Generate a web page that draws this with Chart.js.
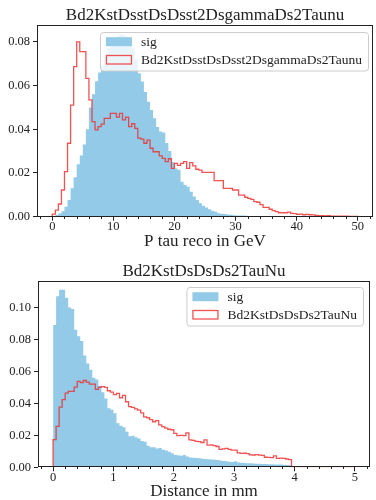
<!DOCTYPE html>
<html><head><meta charset="utf-8">
<script src="https://cdn.jsdelivr.net/npm/chart.js@4.4.1/dist/chart.umd.min.js"></script>
<style>
html,body{margin:0;padding:0;background:#fff;}
#wrap{position:relative;width:376px;height:500px;overflow:hidden;}
.box{position:absolute;left:0;width:376px;height:250px;}
</style></head><body>
<div id="wrap">
<div class="box" style="top:0"><canvas id="c1" width="376" height="250"></canvas></div>
<div class="box" style="top:250px"><canvas id="c2" width="376" height="250"></canvas></div>
</div>
<script>
// ---------- DATA : top panel (P tau reco) ----------
const pTitle = 'Bd2KstDsstDsDsst2DsgammaDs2Taunu';
const pXLabel = 'P tau reco in GeV';
const pSigLabel = 'sig';
const pBkgLabel = 'Bd2KstDsstDsDsst2DsgammaDs2Taunu';
const pRange = [0, 50];            // histogram range, 100 bins
const pSig = [
 0,0.0003,0.0008,0.0015,0.0025,0.0046,0.0076,0.013,0.018,0.024,
 0.028,0.033,0.040,0.050,0.056,0.062,0.066,0.069,0.073,0.077,
 0.079,0.081,0.0825,0.0835,0.083,0.082,0.080,0.077,0.072,0.0656,
 0.0618,0.057,0.0526,0.0488,0.045,0.041,0.039,0.0385,0.0337,0.030,
 0.025,0.022,0.0215,0.016,0.0145,0.0137,0.0114,0.0092,0.0076,0.0061,
 0.005,0.0042,0.0034,0.0027,0.0023,0.0016,0.0013,0.0012,0.001,0.0009,
 0.0007,0.0006,0.0005,0.0005,0.0004,0.0003,0.0003,0.0002,0.0002,0.0002,
 0.0001,0.0001,0.0001,0,0,0,0,0,0,0,
 0,0,0,0,0,0,0,0,0,0,
 0,0,0,0,0,0,0,0,0,0];
const pBkg = [
 0.0002,0.0012,0.003,0.0058,0.0122,0.0206,0.0336,0.051,0.0686,0.080,
 0.0755,0.0755,0.0633,0.0534,0.0435,0.0397,0.0412,0.0423,0.045,0.045,
 0.0473,0.0473,0.0455,0.0473,0.0443,0.0455,0.0412,0.0425,0.0404,0.0359,
 0.0355,0.0336,0.035,0.0313,0.0297,0.0297,0.0278,0.0267,0.0252,0.0265,
 0.0221,0.0244,0.0235,0.0244,0.0252,0.0221,0.0247,0.0232,0.0217,0.0213,
 0.0203,0.0203,0.0203,0.0203,0.0165,0.0165,0.0165,0.013,0.013,0.013,
 0.0122,0.0122,0.0099,0.0099,0.0089,0.0084,0.0079,0.0069,0.0066,0.0055,
 0.0043,0.0043,0.0034,0.0028,0.0023,0.0018,0.0018,0.0018,0.0021,0.0015,
 0.0014,0.0011,0.0012,0.0009,0.0011,0.0009,0.0008,0.0006,0.0005,0.0005,
 0.0004,0.0005,0.0003,0.0003,0.0002,0.0003,0.0002,0.0002,0.0001,0.0001];
const pXTicks = [0,10,20,30,40,50];
const pXTickLabels = ['0','10','20','30','40','50'];
const pYTicks = [0,0.02,0.04,0.06,0.08];
const pYTickLabels = ['0.00','0.02','0.04','0.06','0.08'];

// ---------- DATA : bottom panel (Distance) ----------
const dTitle = 'Bd2KstDsDsDs2TauNu';
const dXLabel = 'Distance in mm';
const dSigLabel = 'sig';
const dBkgLabel = 'Bd2KstDsDsDs2TauNu';
const dRange = [0, 5];             // histogram range, 100 bins
const dSig = [
 0.033,0.089,0.107,0.111,0.111,0.106,0.100,0.099,0.086,0.082,
 0.079,0.070,0.065,0.061,0.056,0.055,0.051,0.047,0.043,0.037,
 0.036,0.0338,0.0275,0.026,0.025,0.0223,0.0195,0.0198,0.0188,0.018,
 0.0165,0.016,0.0135,0.0125,0.0125,0.0118,0.012,0.011,0.0105,0.0098,
 0.0088,0.0077,0.0075,0.0072,0.0077,0.0068,0.0062,0.006,0.0058,0.0056,
 0.0054,0.0052,0.005,0.0049,0.0047,0.0046,0.0043,0.004,0.0038,0.0035,
 0.0033,0.0038,0.003,0.0028,0.0027,0.0026,0.0025,0.0024,0.0022,0.0022,
 0.002,0.002,0.0019,0.0019,0.0018,0.0018,0.0017,0.0016,0.0015,0.0015,
 0,0,0,0,0,0,0,0,0,0,
 0,0,0,0,0,0,0,0,0,0];
const dBkg = [
 0.0048,0.0173,0.0256,0.0377,0.0423,0.0464,0.0475,0.0475,0.0502,0.0537,
 0.053,0.0543,0.0533,0.052,0.052,0.0487,0.050,0.0505,0.050,0.0479,
 0.047,0.0455,0.0462,0.0435,0.045,0.041,0.038,0.0375,0.0365,0.0358,
 0.034,0.0316,0.031,0.0298,0.0285,0.0292,0.0265,0.0255,0.0245,0.0238,
 0.0235,0.0212,0.0198,0.020,0.0198,0.0215,0.0171,0.0168,0.0162,0.016,
 0.0155,0.0172,0.0139,0.014,0.0135,0.013,0.0112,0.0115,0.0118,0.0112,
 0.0108,0.0108,0.009,0.0087,0.0088,0.0086,0.0078,0.0077,0.0079,0.0076,
 0.0074,0.0063,0.0062,0.0061,0.0071,0.0056,0.0057,0.0056,0.0052,0.0048,
 0.0003,0.0003,0.0003,0.0003,0.0003,0.0003,0.0003,0.0003,0.0003,0.0003,
 0.0003,0.0003,0.0003,0.0003,0.0003,0.0003,0.0003,0.0003,0.0003,0.0003];
const dXTicks = [0,1,2,3,4,5];
const dXTickLabels = ['0','1','2','3','4','5'];
const dYTicks = [0,0.02,0.04,0.06,0.08,0.10];
const dYTickLabels = ['0.00','0.02','0.04','0.06','0.08','0.10'];

// ---------- STYLE ----------
const FONT = '"Liberation Serif", "DejaVu Serif", serif';
const BLUE = 'rgb(146,202,232)';
const RED = 'rgba(238,45,45,0.82)';
const INK = '#222';

const titlePlugin = {
  id: 'ptitle',
  afterDraw(chart, args, o) {
    const {ctx, chartArea: a} = chart;
    ctx.save();
    ctx.font = `${o.size}px ${FONT}`;
    ctx.fillStyle = INK;
    ctx.textAlign = 'center';
    ctx.textBaseline = 'alphabetic';
    ctx.fillText(o.text, (a.left + a.right) / 2, o.y);
    ctx.restore();
  }
};

const framePlugin = {
  id: 'frame',
  afterDatasetsDraw(chart) {
    const {ctx, chartArea: a} = chart;
    ctx.save();
    ctx.strokeStyle = INK;
    ctx.lineWidth = 1;
    const l = Math.round(a.left) + 0.5, r = Math.round(a.right) - 0.5;
    const t = Math.round(a.top) + 0.5, b = Math.round(a.bottom) - 0.5;
    ctx.strokeRect(l, t, r - l, b - t);
    ctx.restore();
  }
};

const minorPlugin = {
  id: 'minor',
  afterDatasetsDraw(chart, args, o) {
    const {ctx, chartArea: a} = chart;
    const s = chart.scales.x;
    ctx.save();
    ctx.strokeStyle = INK;
    ctx.lineWidth = 1;
    ctx.beginPath();
    const y0 = Math.round(a.bottom);
    for (let k = Math.ceil(s.min / o.step - 1e-9); k * o.step <= s.max + 1e-9; k++) {
      const v = k * o.step;
      if (o.majors.some(m => Math.abs(m - v) < 1e-9)) continue;
      const px = Math.round(s.getPixelForValue(v)) + 0.5;
      ctx.moveTo(px, y0);
      ctx.lineTo(px, y0 + o.len);
    }
    ctx.stroke();
    ctx.restore();
  }
};

const legendPlugin = {
  id: 'hlegend',
  afterDatasetsDraw(chart, args, o) {
    const {ctx, chartArea: a} = chart;
    const ds = chart.data.datasets;
    const items = [ds[1], ds[0]]; // sig first, then background
    ctx.save();
    ctx.font = `${o.size}px ${FONT}`;
    const tw = Math.max(...items.map(d => ctx.measureText(d.label).width));
    const w = 41 + tw + 6, h = o.h;
    const right = a.right - o.dx, top = a.top + o.dy, left = right - w;
    ctx.beginPath();
    ctx.roundRect(left + 0.5, top + 0.5, w, h, 3);
    ctx.fillStyle = 'rgba(255,255,255,0.8)';
    ctx.fill();
    ctx.strokeStyle = '#cccccc';
    ctx.lineWidth = 1;
    ctx.stroke();
    items.forEach((d, i) => {
      const cy = top + o.rows[i];
      if (i === 0) {
        ctx.fillStyle = d.backgroundColor;
        ctx.fillRect(left + 6, cy - 4.5, 26, 9);
      } else {
        ctx.strokeStyle = d.borderColor;
        ctx.lineWidth = 1.3;
        ctx.strokeRect(left + 6.5, cy - 4, 25, 8.5);
      }
      ctx.fillStyle = INK;
      ctx.textAlign = 'left';
      ctx.textBaseline = 'middle';
      ctx.fillText(d.label, left + 41, cy + 0.5);
    });
    ctx.restore();
  }
};

function makeHist(id, cfg) {
  const n = cfg.sig.length;
  const w = (cfg.range[1] - cfg.range[0]) / n;
  const edge = i => cfg.range[0] + i * w;
  const sigPts = cfg.sig.map((v, i) => ({x: edge(i), y: v}));
  sigPts.push({x: edge(n), y: cfg.sig[n - 1]});
  sigPts.push({x: edge(n), y: 0});
  const bkgPts = [{x: edge(0), y: 0}].concat(cfg.bkg.map((v, i) => ({x: edge(i), y: v})));
  bkgPts.push({x: edge(n), y: cfg.bkg[n - 1]});
  bkgPts.push({x: edge(n), y: 0});
  const ymax = Math.max(...cfg.sig, ...cfg.bkg) * 1.05;
  const xm = (cfg.range[1] - cfg.range[0]) * 0.05;

  return new Chart(document.getElementById(id), {
    type: 'line',
    data: {datasets: [
      {label: cfg.bkgLabel, data: bkgPts, stepped: 'after', borderColor: RED,
       borderWidth: 1.3, pointRadius: 0, fill: false, order: 0},
      {label: cfg.sigLabel, data: sigPts, stepped: 'after', borderColor: 'rgba(0,0,0,0)',
       borderWidth: 0, backgroundColor: BLUE, fill: 'origin', pointRadius: 0, order: 1}
    ]},
    options: {
      responsive: false, animation: false, events: [],
      layout: {padding: {top: cfg.L.top, left: 0, right: cfg.L.right, bottom: 0}},
      plugins: {
        legend: {display: false}, title: {display: false}, tooltip: {enabled: false},
        ptitle: {text: cfg.title, y: cfg.L.titleY, size: 17},
        minor: {step: cfg.minorStep, majors: cfg.xTicks, len: 2},
        hlegend: {size: 13.5, dx: cfg.L.legDx, dy: cfg.L.legDy, h: 38.5, rows: [9.7, 27.5]}
      },
      scales: {
        x: {
          type: 'linear', min: cfg.range[0] - xm, max: cfg.range[1] + xm,
          afterBuildTicks: s => { s.ticks = cfg.xTicks.map(v => ({value: v})); },
          afterFit: s => { s.height = cfg.L.xAxisH; },
          ticks: {color: INK, padding: 0, maxRotation: 0, autoSkip: false,
                  font: {family: FONT, size: 12.5, lineHeight: 1},
                  callback: (v, i) => cfg.xTickLabels[i]},
          grid: {drawOnChartArea: false, drawTicks: true, tickLength: 4, color: INK, lineWidth: 1},
          border: {display: false},
          title: {display: true, text: cfg.xLabel, color: INK, padding: 0,
                  font: {family: FONT, size: 17, lineHeight: 1}}
        },
        y: {
          min: 0, max: ymax,
          afterBuildTicks: s => { s.ticks = cfg.yTicks.map(v => ({value: v})); },
          afterFit: s => { s.width = cfg.L.yAxisW; },
          ticks: {color: INK, padding: 3, autoSkip: false,
                  font: {family: FONT, size: 12.5, lineHeight: 1},
                  callback: (v, i) => cfg.yTickLabels[i]},
          grid: {drawOnChartArea: false, drawTicks: true, tickLength: 4, color: INK, lineWidth: 1},
          border: {display: false}
        }
      }
    },
    plugins: [framePlugin, minorPlugin, legendPlugin, titlePlugin]
  });
}

makeHist('c1', {
  title: pTitle, xLabel: pXLabel, sigLabel: pSigLabel, bkgLabel: pBkgLabel,
  range: pRange, sig: pSig, bkg: pBkg,
  xTicks: pXTicks, xTickLabels: pXTickLabels, yTicks: pYTicks, yTickLabels: pYTickLabels,
  minorStep: 2,
  L: {top: 25, right: 3, xAxisH: 33.3, yAxisW: 37, titleY: 19.5, legDx: 5, legDy: 7}
});
makeHist('c2', {
  title: dTitle, xLabel: dXLabel, sigLabel: dSigLabel, bkgLabel: dBkgLabel,
  range: dRange, sig: dSig, bkg: dBkg,
  xTicks: dXTicks, xTickLabels: dXTickLabels, yTicks: dYTicks, yTickLabels: dYTickLabels,
  minorStep: 0.2,
  L: {top: 31, right: 6, xAxisH: 32.7, yAxisW: 38, titleY: 25.7, legDx: 7, legDy: 6}
});
</script>
</body></html>
